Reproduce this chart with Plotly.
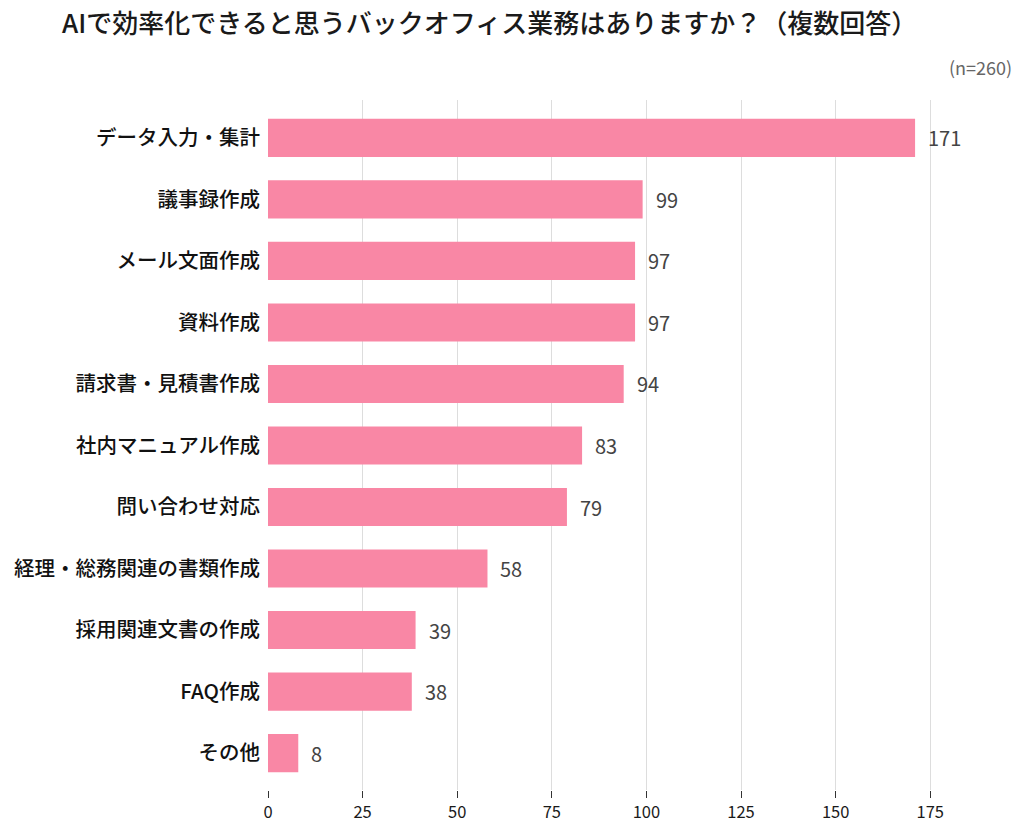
import plotly.graph_objects as go

categories = ["データ入力・集計", "議事録作成", "メール文面作成", "資料作成", "請求書・見積書作成",
              "社内マニュアル作成", "問い合わせ対応", "経理・総務関連の書類作成", "採用関連文書の作成",
              "FAQ作成", "その他"]
values = [171, 99, 97, 97, 94, 83, 79, 58, 39, 38, 8]
tick_vals = [0, 25, 50, 75, 100, 125, 150, 175]

FONT = "Noto Sans CJK JP"
BAR = "#F987A5"

fig = go.Figure(go.Bar(
    x=values, y=categories, orientation="h",
    marker=dict(color=BAR, line=dict(width=0)),
    width=0.62,
    hoverinfo="skip",
))

for c, v in zip(categories, values):
    fig.add_annotation(x=v, y=c, text=str(v), showarrow=False, xanchor="left",
                       xshift=11, font=dict(family=FONT, size=20, color="#444444"))

fig.add_annotation(xref="paper", yref="paper", x=1.0, y=1.0, xanchor="right", yanchor="middle",
                   xshift=80, yshift=33, text="(n=260)", showarrow=False,
                   font=dict(family=FONT, size=18, color="#666666"))

fig.update_layout(
    width=1024, height=835,
    paper_bgcolor="white", plot_bgcolor="white",
    margin=dict(l=268, r=90, t=100, b=43),
    title=dict(text="AIで効率化できると思うバックオフィス業務はありますか？（複数回答）",
               x=62 / 1024, xanchor="left", xref="container",
               y=1 - 24 / 835, yanchor="middle", yref="container",
               font=dict(family=FONT, size=26, color="#1a1a1a", weight=500)),
    showlegend=False,
    xaxis=dict(range=[0, 176], tickvals=tick_vals, showgrid=True, gridcolor="#dddddd",
               gridwidth=1, zeroline=False, showline=False, ticks="outside", ticklen=7,
               tickcolor="#333333", tickfont=dict(family=FONT, size=16.5, color="#1a1a1a"),
               fixedrange=True),
    yaxis=dict(categoryorder="array", categoryarray=categories, range=[10.6, -0.616],
               showgrid=False, zeroline=False, showline=False, ticks="", ticklabelstandoff=7,
               tickfont=dict(family=FONT, size=20.5, color="#111111", weight=500),
               fixedrange=True),
)

fig.write_html("out.html", config={"displayModeBar": False},
               post_script="document.body.style.margin='0';document.body.style.overflow='hidden';")
